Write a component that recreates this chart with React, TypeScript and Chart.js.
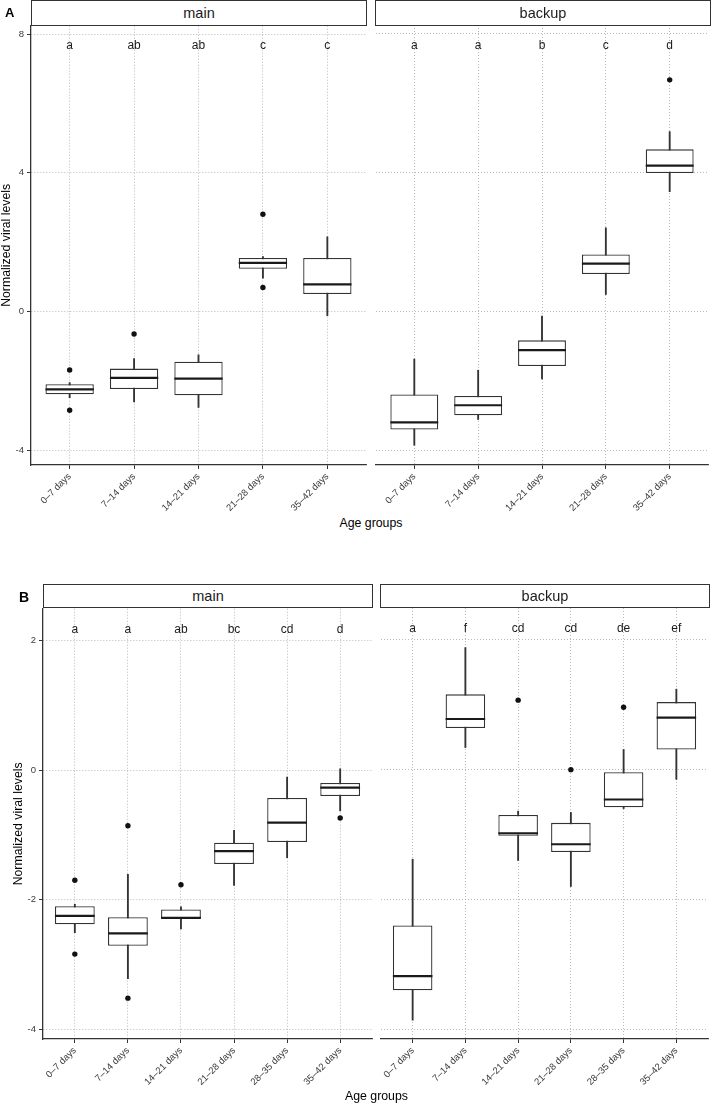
import React, { useEffect, useRef } from "react";
import { Chart, registerables } from "chart.js";

Chart.register(...registerables);

const FONT = '"Liberation Sans", Arial, Helvetica, sans-serif';
const AXIS = "#333333";
const GRID = "rgba(140,140,140,0.75)";
const TICK_TEXT = "#3a3a3a";

// ---- Panel A: five age groups ----
const agesA = ["0–7 days", "7–14 days", "14–21 days", "21–28 days", "35–42 days"];
const yTicksA = [-4, 0, 4, 8];
const yRangeA = [-4.43, 8.24];
const letterYA = 7.65;

const aMainLow = [-2.49, -2.61, -2.77, 0.96, -0.12];
const aMainQ1 = [-2.39, -2.24, -2.42, 1.23, 0.5];
const aMainMed = [-2.25, -1.92, -1.94, 1.4, 0.78];
const aMainQ3 = [-2.1, -1.65, -1.45, 1.54, 1.54];
const aMainHigh = [-2.05, -1.36, -1.25, 1.58, 2.15];
const aMainOutliers: [number, number][] = [[1, -1.69], [1, -2.85], [2, -0.65], [4, 2.8], [4, 0.69]];
const aMainLetters = ["a", "ab", "ab", "c", "c"];

const aBackLow = [-3.86, -3.12, -1.95, 0.48, 3.44];
const aBackQ1 = [-3.41, -3.0, -1.58, 1.07, 3.98];
const aBackMed = [-3.2, -2.71, -1.12, 1.37, 4.19];
const aBackQ3 = [-2.4, -2.44, -0.84, 1.63, 4.66];
const aBackHigh = [-1.38, -1.7, -0.14, 2.4, 5.17];
const aBackOutliers: [number, number][] = [[5, 6.66]];
const aBackLetters = ["a", "a", "b", "c", "d"];

// ---- Panel B: six age groups ----
const agesB = ["0–7 days", "7–14 days", "14–21 days", "21–28 days", "28–35 days", "35–42 days"];
const yTicksB = [-4, -2, 0, 2];
const yRangeB = [-4.15, 2.49];
const letterYB = 2.17;

const bMainLow = [-2.51, -3.22, -2.45, -1.78, -1.35, -0.63];
const bMainQ1 = [-2.38, -2.71, -2.29, -1.45, -1.11, -0.4];
const bMainMed = [-2.25, -2.52, -2.28, -1.25, -0.81, -0.27];
const bMainQ3 = [-2.1, -2.27, -2.15, -1.12, -0.43, -0.2];
const bMainHigh = [-2.07, -1.61, -2.11, -0.93, -0.11, 0.02];
const bMainOutliers: [number, number][] = [[1, -1.7], [1, -2.84], [2, -0.86], [2, -3.52], [3, -1.77], [6, -0.74]];
const bMainLetters = ["a", "a", "ab", "bc", "cd", "d"];

const bBackLow = [-3.86, 0.34, -1.4, -1.8, -0.6, -0.15];
const bBackQ1 = [-3.4, 0.64, -1.02, -1.27, -0.58, 0.31];
const bBackMed = [-3.18, 0.78, -0.98, -1.15, -0.46, 0.8];
const bBackQ3 = [-2.4, 1.16, -0.7, -0.82, -0.04, 1.04];
const bBackHigh = [-1.38, 1.88, -0.64, -0.66, 0.31, 1.24];
const bBackOutliers: [number, number][] = [[3, 1.07], [4, 0.0], [5, 0.96]];
const bBackLetters = ["a", "f", "cd", "cd", "de", "ef"];

// Significance letters written above every group
const lettersPlugin = {
  id: "groupLetters",
  afterDatasetsDraw(chart: any, _args: any, opts: any) {
    const { ctx } = chart;
    const x = chart.scales.x;
    const y = chart.scales.y;
    ctx.save();
    ctx.font = `12px ${FONT}`;
    ctx.fillStyle = "#1a1a1a";
    ctx.textAlign = "center";
    ctx.textBaseline = "middle";
    (opts.letters as string[]).forEach((t, i) => {
      ctx.fillText(t, x.getPixelForValue(i + 1), y.getPixelForValue(opts.y));
    });
    ctx.restore();
  },
};

type FacetProps = {
  labels: string[];
  low: number[];
  q1: number[];
  med: number[];
  q3: number[];
  high: number[];
  outliers: [number, number][];
  letters: string[];
  letterY: number;
  yRange: number[];
  yTicks: number[];
  showY: boolean;
  left: number;
  top: number;
  width: number;
  height: number;
  pad: { left: number; right: number; top: number; bottom: number };
  yWidth: number;
};

function Facet(p: FacetProps) {
  const ref = useRef<HTMLCanvasElement | null>(null);

  useEffect(() => {
    if (!ref.current) return;
    const xs = p.labels.map((_, i) => i + 1);
    // half of the box width, in pixels, from the x scale
    const halfBox = (ctx: any) => {
      const sx = ctx.chart.scales.x;
      return 0.375 * Math.abs(sx.getPixelForValue(1) - sx.getPixelForValue(0));
    };

    const chart = new Chart(ref.current, {
      type: "bar",
      data: {
        datasets: [
          {
            type: "scatter",
            data: p.outliers.map(([i, v]) => ({ x: i, y: v })),
            pointStyle: "circle",
            radius: 2.7,
            backgroundColor: "#111111",
            borderWidth: 0,
            order: 0,
          },
          {
            type: "scatter",
            data: xs.map((x, i) => ({ x, y: p.med[i] })),
            pointStyle: "line",
            radius: halfBox,
            borderColor: "#1a1a1a",
            borderWidth: 2.2,
            order: 1,
          },
          {
            type: "bar",
            data: xs.map((x, i) => ({ x, y: [p.q1[i], p.q3[i]] })),
            backgroundColor: "#ffffff",
            borderColor: AXIS,
            borderWidth: 1.3,
            borderSkipped: false,
            grouped: false,
            barPercentage: 0.75,
            categoryPercentage: 1,
            order: 2,
          },
          {
            type: "bar",
            data: xs.map((x, i) => ({ x, y: [p.low[i], p.high[i]] })),
            backgroundColor: AXIS,
            borderWidth: 0,
            barThickness: 1.2,
            grouped: false,
            order: 3,
          },
        ] as any,
      },
      options: {
        responsive: false,
        animation: false,
        events: [],
        layout: { padding: p.pad },
        plugins: {
          legend: { display: false },
          tooltip: { enabled: false },
          groupLetters: { letters: p.letters, y: p.letterY },
        } as any,
        scales: {
          x: {
            type: "linear",
            offset: false,
            min: 0.4,
            max: p.labels.length + 0.6,
            afterBuildTicks: (s: any) => {
              s.ticks = xs.map((v) => ({ value: v }));
            },
            afterFit: (s: any) => {
              s.height = 50;
            },
            ticks: {
              autoSkip: false,
              minRotation: 45,
              maxRotation: 45,
              padding: 2,
              color: TICK_TEXT,
              font: { family: FONT, size: 9.5 },
              callback: (v: any) => p.labels[Math.round(Number(v)) - 1] ?? "",
            },
            grid: {
              color: GRID,
              lineWidth: 0.8,
              drawTicks: true,
              tickLength: 4,
              tickColor: AXIS,
              tickWidth: 1,
              offset: false,
            },
            border: { display: true, color: AXIS, width: 1.3, dash: [1, 2] },
          },
          y: {
            type: "linear",
            min: p.yRange[0],
            max: p.yRange[1],
            afterBuildTicks: (s: any) => {
              s.ticks = p.yTicks.map((v) => ({ value: v }));
            },
            afterFit: (s: any) => {
              s.width = p.yWidth;
            },
            ticks: {
              display: p.showY,
              padding: 3,
              color: TICK_TEXT,
              font: { family: FONT, size: 9.5 },
              callback: (v: any) => String(v),
            },
            grid: {
              color: GRID,
              lineWidth: 0.8,
              drawTicks: p.showY,
              tickLength: 4,
              tickColor: AXIS,
              tickWidth: 1,
            },
            border: { display: p.showY, color: AXIS, width: 1.3, dash: [1, 2] },
            title: {
              display: p.showY,
              text: "Normalized viral levels",
              color: "#000000",
              font: { family: FONT, size: 12.3, lineHeight: 1 },
              padding: 0,
            },
          },
        } as any,
      },
      plugins: [lettersPlugin],
    } as any);

    return () => chart.destroy();
  }, []);

  return (
    <canvas
      ref={ref}
      width={p.width}
      height={p.height}
      style={{ position: "absolute", left: p.left, top: p.top, width: p.width, height: p.height }}
    />
  );
}

function Strip({ left, top, width, height, text }: { left: number; top: number; width: number; height: number; text: string }) {
  return (
    <div
      style={{
        position: "absolute",
        left,
        top,
        width,
        height,
        boxSizing: "border-box",
        border: `1.3px solid ${AXIS}`,
        background: "#ffffff",
        display: "flex",
        alignItems: "center",
        justifyContent: "center",
        fontFamily: FONT,
        fontSize: 14.5,
        color: "#1a1a1a",
      }}
    >
      {text}
    </div>
  );
}

function Label({ left, top, width, text, size, bold }: { left: number; top: number; width?: number; text: string; size: number; bold?: boolean }) {
  return (
    <div
      style={{
        position: "absolute",
        left,
        top,
        width,
        textAlign: width ? "center" : "left",
        fontFamily: FONT,
        fontSize: size,
        fontWeight: bold ? 700 : 400,
        lineHeight: "16px",
        color: "#000000",
        whiteSpace: "nowrap",
      }}
    >
      {text}
    </div>
  );
}

export default function App() {
  return (
    <div style={{ position: "absolute", left: 0, top: 0, width: 712, height: 1104, background: "#ffffff", overflow: "hidden" }}>
      {/* Panel A */}
      <Facet
        labels={agesA} low={aMainLow} q1={aMainQ1} med={aMainMed} q3={aMainQ3} high={aMainHigh}
        outliers={aMainOutliers} letters={aMainLetters} letterY={letterYA}
        yRange={yRangeA} yTicks={yTicksA} showY={true}
        left={0} top={17} width={370} height={498}
        pad={{ left: 0, top: 8, right: 3, bottom: 0 }} yWidth={31}
      />
      <Facet
        labels={agesA} low={aBackLow} q1={aBackQ1} med={aBackMed} q3={aBackQ3} high={aBackHigh}
        outliers={aBackOutliers} letters={aBackLetters} letterY={letterYA}
        yRange={yRangeA} yTicks={yTicksA} showY={false}
        left={372} top={17} width={340} height={498}
        pad={{ left: 3, top: 8, right: 1, bottom: 0 }} yWidth={0}
      />
      <Strip left={31} top={0} width={336} height={25.5} text="main" />
      <Strip left={375} top={0} width={336} height={25.5} text="backup" />
      <Label left={5} top={5} text="A" size={13} bold />
      <Label left={31} top={515} width={680} text="Age groups" size={12.3} />

      {/* Panel B */}
      <Facet
        labels={agesB} low={bMainLow} q1={bMainQ1} med={bMainMed} q3={bMainQ3} high={bMainHigh}
        outliers={bMainOutliers} letters={bMainLetters} letterY={letterYB}
        yRange={yRangeB} yTicks={yTicksB} showY={true}
        left={0} top={600} width={376} height={489}
        pad={{ left: 12, top: 8, right: 3, bottom: 0 }} yWidth={31}
      />
      <Facet
        labels={agesB} low={bBackLow} q1={bBackQ1} med={bBackMed} q3={bBackQ3} high={bBackHigh}
        outliers={bBackOutliers} letters={bBackLetters} letterY={letterYB}
        yRange={yRangeB} yTicks={yTicksB} showY={false}
        left={377} top={600} width={335} height={489}
        pad={{ left: 3, top: 8, right: 2, bottom: 0 }} yWidth={0}
      />
      <Strip left={43} top={584} width={330} height={24} text="main" />
      <Strip left={380} top={584} width={330} height={24} text="backup" />
      <Label left={19} top={589} text="B" size={14} bold />
      <Label left={43} top={1088} width={667} text="Age groups" size={12.3} />
    </div>
  );
}
